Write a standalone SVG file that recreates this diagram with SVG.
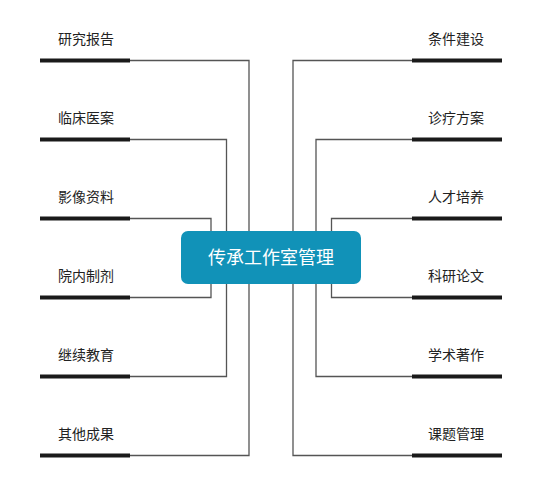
<svg xmlns="http://www.w3.org/2000/svg" width="540" height="494" viewBox="0 0 540 494">
<style>
.lbl{font-family:"Noto Sans CJK SC","Noto Sans",sans-serif;font-size:14px;fill:#222}
.bar{stroke:#1a1a1a;stroke-width:4;fill:none}
.con{stroke:#555;stroke-width:1.3;fill:none}
</style>
<rect width="540" height="494" fill="#fff"/>
<g id="connectors">
<path class="con" d="M130 60.5H249V231"/>
<path class="con" d="M130 139.5H226.5V231"/>
<path class="con" d="M130 218.5H211V231"/>
<path class="con" d="M130 297.5H211V284"/>
<path class="con" d="M130 376.5H226.5V284"/>
<path class="con" d="M130 455.5H249V284"/>
<path class="con" d="M412 60.5H293V231"/>
<path class="con" d="M412 139.5H316V231"/>
<path class="con" d="M412 218.5H331.5V231"/>
<path class="con" d="M412 297.5H331.5V284"/>
<path class="con" d="M412 376.5H316V284"/>
<path class="con" d="M412 455.5H293V284"/>
</g>
<g id="center">
<rect x="181" y="231" width="180" height="53" rx="7" fill="#1192b8"/>
<text x="271" y="264" text-anchor="middle" font-family="Noto Sans CJK SC,sans-serif" font-size="18" fill="#fff">传承工作室管理</text>
</g>
<g id="n1"><line class="bar" x1="40" y1="60.5" x2="130" y2="60.5"/><text class="lbl" x="58" y="44">研究报告</text></g>
<g id="n2"><line class="bar" x1="40" y1="139.5" x2="130" y2="139.5"/><text class="lbl" x="58" y="123">临床医案</text></g>
<g id="n3"><line class="bar" x1="40" y1="218.5" x2="130" y2="218.5"/><text class="lbl" x="58" y="202">影像资料</text></g>
<g id="n4"><line class="bar" x1="40" y1="297.5" x2="130" y2="297.5"/><text class="lbl" x="58" y="281">院内制剂</text></g>
<g id="n5"><line class="bar" x1="40" y1="376.5" x2="130" y2="376.5"/><text class="lbl" x="58" y="360">继续教育</text></g>
<g id="n6"><line class="bar" x1="40" y1="455.5" x2="130" y2="455.5"/><text class="lbl" x="58" y="439">其他成果</text></g>
<g id="n7"><line class="bar" x1="412" y1="60.5" x2="502" y2="60.5"/><text class="lbl" x="484" y="44" text-anchor="end">条件建设</text></g>
<g id="n8"><line class="bar" x1="412" y1="139.5" x2="502" y2="139.5"/><text class="lbl" x="484" y="123" text-anchor="end">诊疗方案</text></g>
<g id="n9"><line class="bar" x1="412" y1="218.5" x2="502" y2="218.5"/><text class="lbl" x="484" y="202" text-anchor="end">人才培养</text></g>
<g id="n10"><line class="bar" x1="412" y1="297.5" x2="502" y2="297.5"/><text class="lbl" x="484" y="281" text-anchor="end">科研论文</text></g>
<g id="n11"><line class="bar" x1="412" y1="376.5" x2="502" y2="376.5"/><text class="lbl" x="484" y="360" text-anchor="end">学术著作</text></g>
<g id="n12"><line class="bar" x1="412" y1="455.5" x2="502" y2="455.5"/><text class="lbl" x="484" y="439" text-anchor="end">课题管理</text></g>
</svg>
